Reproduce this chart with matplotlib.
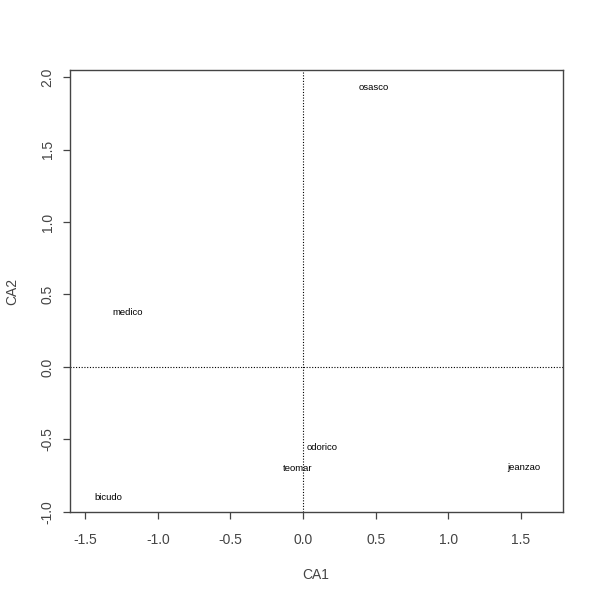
import matplotlib
matplotlib.use("Agg")
import matplotlib.pyplot as plt

plt.rcParams["font.family"] = ["Liberation Sans", "DejaVu Sans"]

# site scores
sites = ["osasco", "medico", "odorico", "teomar", "jeanzao", "bicudo"]
ca1 = [0.484, -1.204, 0.134, -0.037, 1.521, -1.339]
ca2 = [1.928, 0.374, -0.555, -0.705, -0.693, -0.903]

xticks = [-1.5, -1.0, -0.5, 0.0, 0.5, 1.0, 1.5]
yticks = [-1.0, -0.5, 0.0, 0.5, 1.0, 1.5, 2.0]

fig = plt.figure(figsize=(6, 6), dpi=100)
ax = fig.add_axes([70 / 600, 1 - 512 / 600, 493 / 600, 442 / 600])

for name, x, y in zip(sites, ca1, ca2):
    ax.text(x, y, name, ha="center", va="center", fontsize=6.8, color="black")

ax.axhline(0, color="black", lw=0.8, ls=(0, (1, 1.5)))
ax.axvline(0, color="black", lw=0.8, ls=(0, (1, 1.5)))

ax.set_xlim(-1.604, 1.789)
ax.set_ylim(-1.002, 2.05)
ax.set_xticks(xticks)
ax.set_yticks(yticks)
ax.set_xticklabels(["%.1f" % v for v in xticks])
ax.set_yticklabels(["%.1f" % v for v in yticks], rotation=90, va="center")

col = "#444444"
for s in ax.spines.values():
    s.set_color(col)
    s.set_linewidth(1.0)
ax.tick_params(axis="both", direction="out", length=5, width=0.9, color=col,
               labelcolor=col, labelsize=10)
ax.tick_params(axis="x", pad=10)
ax.tick_params(axis="y", pad=6)

fig.text(316 / 600, 1 - 575 / 600, "CA1", ha="center", va="center", fontsize=10, color=col)
fig.text(12 / 600, 1 - 291 / 600, "CA2", ha="center", va="center", rotation=90,
         fontsize=10, color=col)

fig.savefig("out.png", dpi=100)
